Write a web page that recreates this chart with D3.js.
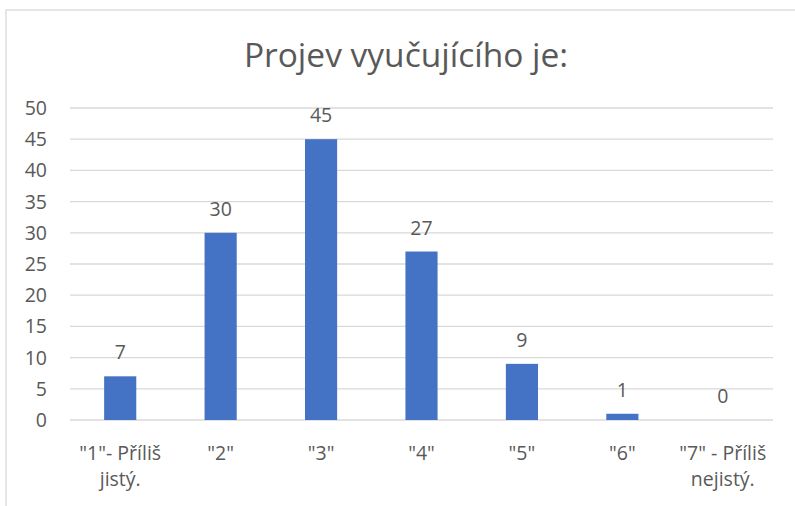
<!DOCTYPE html>
<meta charset="utf-8">
<style>
body { margin: 0; background: #fff; }
text { font-family: "Open Sans", sans-serif; fill: #595959; }
</style>
<body>
<script src="https://cdn.jsdelivr.net/npm/d3@7"></script>
<script>
// DATA
var categories = [["\"1\"- Příliš", "jistý."], ["\"2\""], ["\"3\""], ["\"4\""], ["\"5\""], ["\"6\""], ["\"7\" - Příliš", "nejistý."]];
var values = [7, 30, 45, 27, 9, 1, 0];
var yTicks = [0, 5, 10, 15, 20, 25, 30, 35, 40, 45, 50];
var title = "Projev vyučujícího je:";

var width = 795, height = 506;
var plot = { left: 70, right: 773, top: 108, bottom: 420 };

var svg = d3.select("body").append("svg")
    .attr("width", width)
    .attr("height", height);

// chart area border (cut off at right and bottom)
svg.append("rect")
    .attr("x", 6).attr("y", 10)
    .attr("width", 820).attr("height", 520)
    .attr("fill", "#fff")
    .attr("stroke", "#d9d9d9")
    .attr("stroke-width", 1.3);

var x = d3.scaleBand()
    .domain(d3.range(categories.length))
    .range([plot.left, plot.right])
    .paddingInner(0.68)
    .paddingOuter(0.34);

var y = d3.scaleLinear()
    .domain([0, 50])
    .range([plot.bottom, plot.top]);

// gridlines
svg.append("g")
    .selectAll("line")
    .data(yTicks)
    .join("line")
    .attr("x1", plot.left).attr("x2", plot.right)
    .attr("y1", d => y(d)).attr("y2", d => y(d))
    .attr("stroke", "#d9d9d9")
    .attr("stroke-width", 1.3);

// y axis labels
svg.append("g")
    .selectAll("text")
    .data(yTicks)
    .join("text")
    .attr("x", 47)
    .attr("y", d => y(d) + 7)
    .attr("text-anchor", "end")
    .attr("font-size", 19.5)
    .text(d => d);

// bars
svg.append("g")
    .selectAll("rect")
    .data(values)
    .join("rect")
    .attr("x", (d, i) => x(i))
    .attr("y", d => y(d))
    .attr("width", x.bandwidth())
    .attr("height", d => y(0) - y(d))
    .attr("fill", "#4472c4");

// value labels
svg.append("g")
    .selectAll("text")
    .data(values)
    .join("text")
    .attr("x", (d, i) => x(i) + x.bandwidth() / 2)
    .attr("y", d => y(d) - 17)
    .attr("text-anchor", "middle")
    .attr("font-size", 19.5)
    .text(d => d);

// category labels
var cat = svg.append("g")
    .selectAll("text")
    .data(categories)
    .join("text")
    .attr("x", (d, i) => x(i) + x.bandwidth() / 2)
    .attr("y", 460)
    .attr("text-anchor", "middle")
    .attr("font-size", 19.5);
cat.selectAll("tspan")
    .data(d => d)
    .join("tspan")
    .attr("x", function () { return d3.select(this.parentNode).attr("x"); })
    .attr("dy", (d, i) => i === 0 ? 0 : 26)
    .text(d => d);

// title
svg.append("text")
    .attr("x", 406)
    .attr("y", 67)
    .attr("text-anchor", "middle")
    .attr("font-size", 33.5)
    .text(title);
</script>
</body>
